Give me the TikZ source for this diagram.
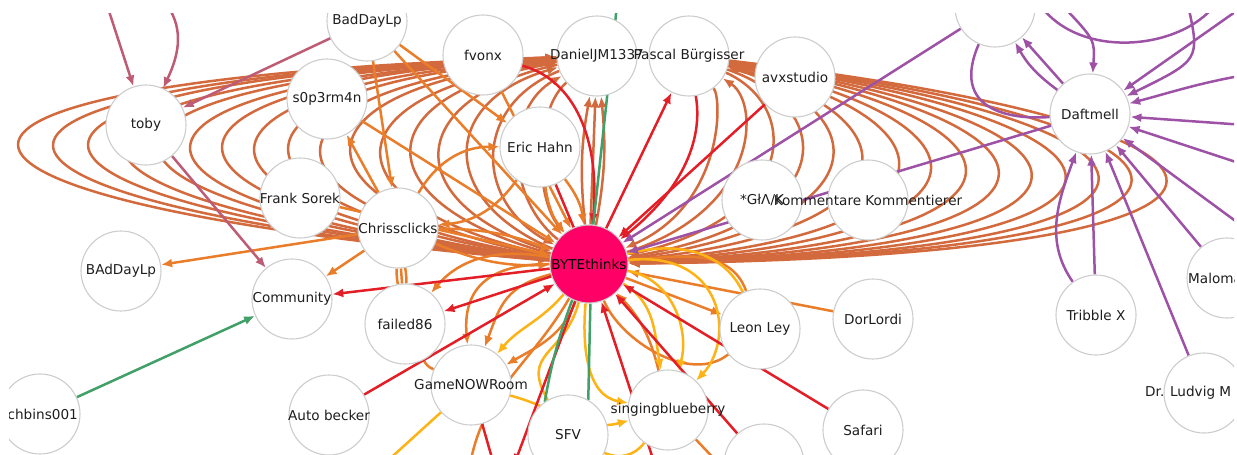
\documentclass[tikz,border=0pt]{standalone}
\usepackage{fontspec}
\setmainfont{DejaVu Sans}
\usetikzlibrary{arrows.meta}
\pgfdeclarelayer{edges}
\pgfsetlayers{edges,main}
\definecolor{sien}{RGB}{211,106,62}
\definecolor{orng}{RGB}{234,125,42}
\definecolor{redd}{RGB}{228,30,38}
\definecolor{gold}{RGB}{253,178,22}
\definecolor{purp}{RGB}{157,82,166}
\definecolor{grn}{RGB}{64,160,104}
\definecolor{mauv}{RGB}{190,92,118}
\definecolor{bytepink}{RGB}{255,0,102}
\definecolor{ndgray}{RGB}{205,205,205}
\definecolor{txt}{RGB}{30,30,30}
\begin{document}
\begin{tikzpicture}[x=1pt,y=-1pt,
  nd/.style={circle,draw=ndgray,line width=1.1pt,fill=white,minimum size=80pt,inner sep=0pt},
  lbl/.style={inner sep=0pt,font=\fontsize{13.6}{15}\selectfont,text=txt},
  ed/.style={line width=2.5pt},
  arrE/.style={-{Latex[length=11pt,width=9pt]}},
  arrS/.style={{Latex[length=11pt,width=9pt]}-},
]
\useasboundingbox (0,0) rectangle (1237,455);
\begin{scope}
\clip (9,13) rectangle (1234,455);
\node[nd] (toby) at (146,125) {}; \node[lbl] at (toby) {toby};
\node[nd] (bdl) at (367,21) {}; \node[lbl] at (bdl) {BadDayLp};
\node[nd] (s0p) at (327,99) {}; \node[lbl] at (s0p) {s0p3rm4n};
\node[nd] (fvo) at (483,55) {}; \node[lbl] at (fvo) {fvonx};
\node[nd] (dan) at (597,56) {}; \node[lbl] at (dan) {DanielJM1337};
\node[nd] (pas) at (689,56) {}; \node[lbl] at (pas) {Pascal Bürgisser};
\node[nd] (avx) at (795,77) {}; \node[lbl] at (avx) {avxstudio};
\node[nd] (topn) at (995,7) {};
\node[nd] (daf) at (1090,114) {}; \node[lbl] at (daf) {Daftmell};
\node[nd] (eric) at (540,147) {}; \node[lbl] at (eric) {Eric Hahn};
\node[nd] (frk) at (300,198) {}; \node[lbl] at (frk) {Frank Sorek};
\node[nd] (chr) at (398,228) {}; \node[lbl] at (chr) {Chrissclicks};
\node[nd] (glk) at (762,200) {}; \node[lbl] at (762,200) {*GłΛ/K};
\node[nd] (kom) at (868,200) {}; \node[lbl] at (kom) {Kommentare Kommentierer};
\node[nd,fill=bytepink,minimum size=78pt] (byte) at (589,264) {}; \node[lbl,text=black] at (byte) {BYTEthinks};
\node[nd] (bad2) at (121,271) {}; \node[lbl] at (bad2) {BAdDayLp};
\node[nd] (com) at (292,299) {}; \node[lbl] at (com) {Community};
\node[nd] (fai) at (405,324) {}; \node[lbl] at (fai) {failed86};
\node[nd] (chb) at (40,414) {}; \node[lbl,anchor=east] at (78,414) {chbins001};
\node[nd] (aut) at (329,415) {}; \node[lbl] at (aut) {Auto becker};
\node[nd] (gam) at (471,385) {}; \node[lbl] at (gam) {GameNOWRoom};
\node[nd] (sfv) at (568,435) {}; \node[lbl] at (sfv) {SFV};
\node[nd] (sng) at (668,410) {}; \node[lbl] at (sng) {singingblueberry};
\node[nd] (leo) at (760,329) {}; \node[lbl] at (leo) {Leon Ley};
\node[nd] (dor) at (873,319) {}; \node[lbl] at (dor) {DorLordi};
\node[nd] (saf) at (863,430) {}; \node[lbl] at (saf) {Safari};
\node[nd] (botr) at (764,464) {};
\node[nd] (tri) at (1096,315) {}; \node[lbl] at (tri) {Tribble X};
\node[nd] (mal) at (1227,278) {}; \node[lbl,anchor=west] at (1188,278) {Maloma};
\node[nd] (lud) at (1204,393) {}; \node[lbl,anchor=west] at (1145,393) {Dr. Ludvig M};
\end{scope}
\begin{pgfonlayer}{edges}
\begin{scope}
\clip (9,13) rectangle (1234,455);
\coordinate (m1) at (107,5); \coordinate (m2) at (167,5);
\coordinate (g1) at (617,5);
\coordinate (p1) at (1245,125); \coordinate (p2) at (1245,165);
\coordinate (p3) at (1245,75); \coordinate (p4) at (1245,5);
\coordinate (p5) at (1245,228); \coordinate (p6) at (1040,5);
\coordinate (p7) at (1215,5); \coordinate (p8) at (1062,5);
\coordinate (p9) at (1188,5);
\coordinate (r1) at (514,465); \coordinate (r2) at (655,465);
\coordinate (r3) at (494,465); \coordinate (o1) at (470,465);
\coordinate (o2) at (720,465); \coordinate (y1) at (383,465);
% left family
\foreach \xl/\ya/\yb/\st in {20/80/200/arrS,55/80/200/arrE,90/80/201/arrS,125/80/202/arrE,160/81/203/arrS,192/82/204/arrE,224/83/205/arrS,256/84/206/arrE,290/86/206/arrS,322/88/206/arrE,352/90/205/arrS,382/93/204/arrE,412/96/203/arrS,440/99/202/arrE,468/102/201/arrS,494/105/200/arrE,518/108/198/arrS,540/110/196/arrE}{
  \pgfmathsetmacro\cx{(\xl-139)/0.75}
  \draw[ed,sien,\st] (dan) .. controls (\cx,\ya) and (\cx,\yb) .. (byte);
}
% right family
\foreach \xr/\ya/\yb/\st in {712/100/205/arrE,740/103/210/arrS,770/106/215/arrE,800/109/220/arrE,830/112/225/arrS,860/115/230/arrE,897/118/236/arrE,929/120/240/arrE,964/122/244/arrE,997/124/247/arrE,1030/126/250/arrE,1064/127/252/arrE,1097/128/254/arrE,1130/129/255/arrE,1165/130/256/arrE}{
  \pgfmathsetmacro\cx{(\xr-170)/0.75}
  \draw[ed,sien,\st] (pas) .. controls (\cx,\ya) and (\cx,\yb) .. (byte);
}
\draw[ed,sien,arrE] (byte) -- (dan);
\draw[ed,sien,arrE] (byte) to[bend left=8] (dan);
\draw[ed,sien,arrE] (byte) to[bend right=8] (dan);
% orange
\draw[ed,orng,arrE] (chr) -- (bad2);
\draw[ed,orng,arrE] (chr) -- (com);
\draw[ed,orng,arrE] (bdl) -- (chr);
\draw[ed,orng,arrE] (chr) -- (s0p);
\draw[ed,orng,arrE] (bdl) -- (byte);
\draw[ed,orng,arrE] (bdl) -- (eric);
\draw[ed,orng,arrE] (s0p) -- (byte);
\draw[ed,orng,arrE] (fvo) -- (byte);
\draw[ed,orng,arrE] (frk) -- (byte);
\draw[ed,orng,arrE] (chr) to[bend left=10] (byte);
\draw[ed,orng,arrE] (chr) to[bend right=12] (byte);
\draw[ed,orng,arrE] (eric) to[bend left=15] (byte);
\draw[ed,orng,arrE] (eric) to[bend right=15] (byte);
\draw[ed,orng,arrE] (chr) to[bend left=30] (eric);
\draw[ed,orng,arrE] (eric) to[bend left=25] (chr);
\draw[ed,orng] (chr) to[bend left=6] (fai);
\draw[ed,orng] (chr) -- (fai);
\draw[ed,orng] (chr) to[bend right=6] (fai);
\draw[ed,orng,arrE] (byte) to[out=170,in=50] (fai);
\draw[ed,orng,arrE] (byte) to[out=180,in=95,looseness=1.3] (gam);
\draw[ed,orng,arrE] (byte) to[out=195,in=70,looseness=1.2] (gam);
\draw[ed,orng,arrE] (byte) to[out=-110,in=30] (gam);
\draw[ed,orng] (fai) to[bend right=20] (gam);
\draw[ed,orng,arrE] (byte) -- (leo);
\draw[ed,orng,arrE] (dor) -- (byte);
\draw[ed,orng] (leo) .. controls (690,385) and (620,340) .. (byte);
\draw[ed,orng] (byte) to[out=5,in=110] (leo);
\draw[ed,orng] (byte) to[out=-120,in=80] (o1);
\draw[ed,orng] (sng) -- (o2);
\draw[ed,orng,arrE] (sng) to[bend right=15] (byte);
% gold
\draw[ed,gold,arrE] (byte) .. controls (725,250) and (735,340) .. (sng);
\draw[ed,gold,arrE] (byte) to[out=-30,in=100] (sng);
\draw[ed,gold,arrE] (byte) to[out=-10,in=75] (sng);
\draw[ed,gold,arrE] (byte) to[out=-95,in=170] (sng);
\draw[ed,gold] (byte) to[out=15,in=115] (leo);
\draw[ed,gold] (gam) -- (y1);
\draw[ed,gold,arrE] (gam) to[out=-15,in=195] (sng);
\draw[ed,gold] (sfv) to[bend right=40] (sng);
\draw[ed,gold,arrE] (byte) to[out=-130,in=50] (gam);
\draw[ed,gold] (byte) to[out=-105,in=120,looseness=1.4] (sfv);
% red
\draw[ed,redd,arrE] (fvo) .. controls (575,80) and (600,140) .. (byte);
\draw[ed,redd,arrE] (byte) -- (pas);
\draw[ed,redd,arrE] (avx) -- (byte);
\draw[ed,redd,arrE] (pas) .. controls (705,150) and (670,200) .. (byte);
\draw[ed,redd] (eric) -- (byte);
\draw[ed,redd,arrE] (byte) -- (com);
\draw[ed,redd,arrE] (byte) -- (fai);
\draw[ed,redd,arrE] (aut) -- (byte);
\draw[ed,redd,arrE] (saf) -- (byte);
\draw[ed,redd,arrE] (botr) -- (byte);
\draw[ed,redd,arrE] (byte) -- (r1);
\draw[ed,redd] (gam) -- (r3);
\draw[ed,redd,arrE] (r2) -- (byte);
% purple
\draw[ed,purp,arrE] (topn) -- (byte);
\draw[ed,purp,arrE] (daf) -- (byte);
\draw[ed,purp,arrE] (p1) -- (daf);
\draw[ed,purp,arrE] (p2) -- (daf);
\draw[ed,purp,arrE] (p3) to[out=190,in=15] (daf);
\draw[ed,purp,arrE] (p4) -- (daf);
\draw[ed,purp,arrE] (p5) -- (daf);
\draw[ed,purp,arrE] (tri) -- (daf);
\draw[ed,purp,arrE] (tri) to[out=125,in=250] (daf);
\draw[ed,purp,arrE] (lud) -- (daf);
\draw[ed,purp,arrE] (mal) -- (daf);
\draw[ed,purp,arrE] (daf) -- (topn);
\draw[ed,purp,arrE] (daf) to[bend left=12] (topn);
\draw[ed,purp] (topn) .. controls (950,110) and (1010,120) .. (daf);
\draw[ed,purp] (p6) .. controls (1080,60) and (1180,50) .. (p7);
\draw[ed,purp,arrE] (p8) .. controls (1095,40) .. (daf);
\draw[ed,purp,arrE] (p9) .. controls (1200,60) .. (daf);
% green
\draw[ed,grn,arrE] (chb) -- (com);
\draw[ed,grn] (g1) -- (byte);
\draw[ed,grn] (byte.-88) -- (sfv.60);
\draw[ed,grn] (byte.-115) to[bend right=5] (sfv.125);
% mauve
\draw[ed,mauv,arrE] (m1) -- (toby);
\draw[ed,mauv,arrE] (m2) to[out=-55,in=65] (toby);
\draw[ed,mauv,arrE] (bdl) -- (toby);
\draw[ed,mauv,arrE] (toby) -- (com);
\end{scope}
\end{pgfonlayer}
\end{tikzpicture}
\end{document}
